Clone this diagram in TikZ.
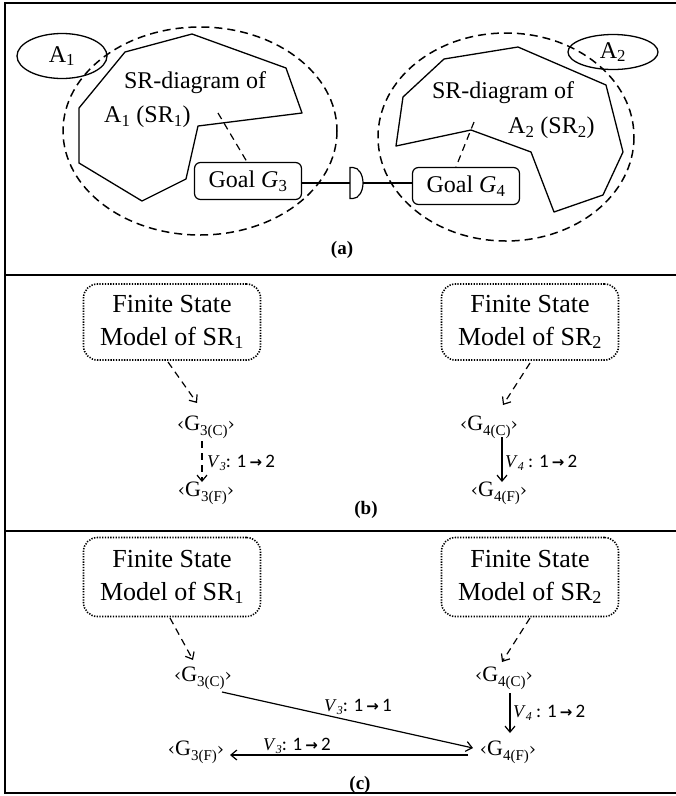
\documentclass[tikz,border=0pt]{standalone}
\usepackage{fontspec}
\setmainfont{Liberation Serif}
\newfontfamily\calfont{Carlito}
\newfontfamily\arrowfont{DejaVu Sans}
\newfontfamily\quotefont{DejaVu Serif}
\usetikzlibrary{arrows.meta,calc,shapes.geometric}

% goal state label such as <G3(C)>
\newcommand\gstate[2]{{\fontsize{22}{22}\selectfont{\quotefont\fontsize{18}{18}\selectfont ‹}G\raisebox{-0.22em}{\fontsize{15}{15}\selectfont #1(#2)}{\quotefont\fontsize{18}{18}\selectfont ›}}}
% transition label such as V3: 1 -> 2
\newcommand\vlab[4]{{\fontsize{18}{18}\selectfont\textit{V}\raisebox{-0.2em}{\fontsize{12}{12}\selectfont\textit{#1}}{\calfont\fontsize{19}{19}\selectfont #2#3\,{\arrowfont\bfseries\fontsize{15}{15}\selectfont →}\,#4}}}

\begin{document}
\begin{tikzpicture}[x=1pt,y=-1pt,
  frame/.style={line width=1.6pt},
  outline/.style={line width=1.3pt, line join=round},
  scope/.style={line width=1.5pt, dash pattern=on 8pt off 5pt},
  agent/.style={ellipse, draw, line width=1.3pt, minimum width=90pt, minimum height=#1, inner sep=0pt, font=\fontsize{24}{24}\selectfont},
  goalbox/.style={draw, line width=1.2pt, rounded corners=6pt, minimum width=107pt, minimum height=37pt, inner sep=0pt, font=\fontsize{24}{24}\selectfont},
  fsm/.style={draw, line width=1.6pt, dash pattern=on 1.3pt off 1.4pt, rounded corners=14pt, minimum width=177pt, minimum height=#1, align=center, inner sep=0pt, font=\fontsize{26}{33}\selectfont},
  srtext/.style={inner sep=0pt, font=\fontsize{24}{24}\selectfont},
  state/.style={inner sep=0pt},
  caption/.style={inner sep=0pt, font=\fontsize{19}{19}\selectfont\bfseries},
  link/.style={line width=1.2pt, -{Straight Barb[length=6pt,width=10pt,line width=1.2pt]}},
  dlink/.style={link, dash pattern=on 7pt off 5pt},
  ptr/.style={line width=1.2pt, dash pattern=on 7pt off 5pt}
]
\useasboundingbox (0,0) rectangle (676,796);

% panel frame
\draw[frame] (676,3) -- (5,3) -- (5,793) -- (676,793);
\draw[line width=2.4pt] (5,3) -- (5,793);
\draw[frame] (5,275) -- (676,275);
\draw[frame] (5,531) -- (676,531);

% ---------------- panel (a) ----------------
\draw[scope] (200,131) ellipse [x radius=137, y radius=104];
\draw[scope] (506,137) ellipse [x radius=128, y radius=104];

\draw[outline] (125,52) -- (192,34) -- (286,68) -- (302,113) -- (198,126)
  -- (186,179) -- (142,201) -- (79,163) -- (79,108) -- cycle;
\draw[outline] (444,59) -- (518,47) -- (606,85) -- (623,152) -- (603,195)
  -- (554,212) -- (531,152) -- (471,130) -- (396,146) -- (403,97) -- cycle;

\node[agent=45pt] (A1) at (62,56) {A\textsubscript{1}};
\node[agent=35pt] (A2) at (613,52) {A\textsubscript{2}};

\node[srtext] (sr1a) at (195,83) {SR-diagram of};
\node[srtext, anchor=west] (sr1b) at (104,117) {A\textsubscript{1} (SR\textsubscript{1})};
\node[srtext] (sr2a) at (503,93) {SR-diagram of};
\node[srtext, anchor=west] (sr2b) at (508,128) {A\textsubscript{2} (SR\textsubscript{2})};

\node[goalbox, fill=white] (G3) at (248,181) {Goal \textit{G}\textsubscript{3}};
\node[goalbox, fill=white] (G4) at (466,186) {Goal \textit{G}\textsubscript{4}};

\coordinate (p1) at (218,113);
\coordinate (p2) at (474,122);
\draw[ptr] (p1) -- ($(G3.north)+(-1,0)$);
\draw[ptr] (p2) -- ($(G4.north)+(-10,0)$);

% dependency link between the two goals
\coordinate (jw) at (350,183);
\coordinate (je) at (363,183);
\draw[line width=1.2pt] (G3.east |- jw) -- (jw);
\draw[line width=1.2pt] (je) -- (je -| G4.west);
\draw[line width=1.2pt, fill=white] (350,167.5) -- (353,167.5)
  arc[start angle=-90, end angle=90, x radius=10, y radius=15.5] -- (350,198.5) -- cycle;

\node[caption] (capa) at (342,250) {(a)};

% ---------------- panel (b) ----------------
\node[fsm=76pt] (fsmL) at (172,322) {Finite State\\Model of SR\textsubscript{1}};
\node[fsm=76pt] (fsmR) at (530,322) {Finite State\\Model of SR\textsubscript{2}};

\node[state] (g3c) at (206,427) {\gstate{3}{C}};
\node[state] (g3f) at (206,493) {\gstate{3}{F}};
\node[state] (g4c) at (489,427) {\gstate{4}{C}};
\node[state] (g4f) at (499,493) {\gstate{4}{F}};

\draw[dlink] ($(fsmL)+(-4,40)$) -- ($(g3c)+(-9,-24)$);
\draw[dlink] ($(g3c)+(-4,14)$) -- ($(g3f)+(-4,-11)$);
\draw[dlink] ($(fsmR)+(0,41)$) -- ($(g4c)+(14,-22)$);
\draw[link] ($(g4c)+(13,10)$) -- ($(g4f)+(3,-11)$);

\node[state, anchor=west] (v3b) at (207,463) {\vlab{3}{:}{ 1}{2}};
\node[state, anchor=west] (v4b) at (505,463) {\vlab{4}{ :}{ 1}{2}};

\node[caption] (capb) at (366,510) {(b)};

% ---------------- panel (c) ----------------
\node[fsm=79pt] (fsmL2) at (172,577) {Finite State\\Model of SR\textsubscript{1}};
\node[fsm=79pt] (fsmR2) at (530,577) {Finite State\\Model of SR\textsubscript{2}};

\node[state] (g3c2) at (203,678) {\gstate{3}{C}};
\node[state] (g4c2) at (504,678) {\gstate{4}{C}};
\node[state] (g4f2) at (508,752) {\gstate{4}{F}};
\node[state] (g3f2) at (196,752) {\gstate{3}{F}};

\draw[dlink] ($(fsmL2)+(-2,41)$) -- ($(g3c2)+(-10,-18)$);
\draw[dlink] ($(fsmR2)+(0,41)$) -- ($(g4c2)+(-2,-16)$);
\draw[link] ($(g4c2)+(6,15)$) -- ($(g4f2)+(2,-19)$);
\draw[link] ($(g3c2)+(19,14)$) -- ($(g4f2)+(-35,-4)$);
\draw[link] ($(g4f2)+(-40,3)$) -- ($(g3f2)+(34,3)$);

\node[state] (v3c1) at (358,707) {\vlab{3}{:}{ 1}{1}};
\node[state, anchor=west] (v4c) at (513,713) {\vlab{4}{ :}{ 1}{2}};
\node[state] (v3c2) at (297,746) {\vlab{3}{:}{ 1}{2}};

\node[caption] (capc) at (360,785) {(c)};
\end{tikzpicture}
\end{document}
